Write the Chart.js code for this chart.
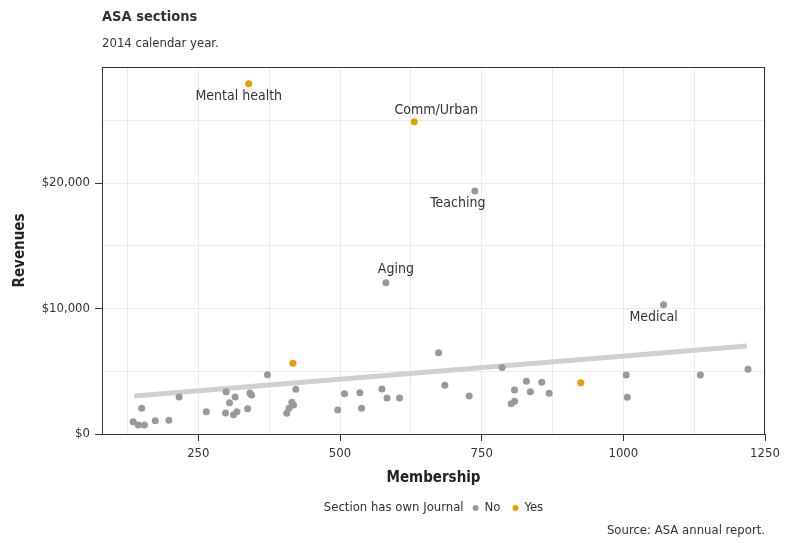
<!DOCTYPE html>
<html>
<head>
<meta charset="utf-8">
<title>ASA sections</title>
<script src="https://cdn.jsdelivr.net/npm/chart.js@4.4.0/dist/chart.umd.min.js"></script>
<style>
  html, body { margin: 0; padding: 0; background: #fff; }
  canvas { display: block; }
</style>
</head>
<body>
<canvas id="asaChart" width="787" height="543"></canvas>
<script>
// sections without their own journal
const noMembers = [135, 144, 155, 150, 174, 198, 216, 264, 299, 305, 315, 298, 312, 318, 337, 341, 344, 372,
  422, 406, 410, 415, 418, 496, 508, 535, 538, 574, 583, 605, 674, 685, 728, 786, 808, 829, 836, 856, 869,
  802, 808, 1005, 1007, 1136, 1220, 738, 581, 1071];
const noRevenues = [980, 720, 720, 2050, 1060, 1090, 2950, 1780, 3370, 2500, 2950, 1670, 1540, 1780, 2020, 3270, 3110, 4730,
  3560, 1650, 2050, 2530, 2310, 1910, 3210, 3290, 2050, 3590, 2870, 2870, 6480, 3880, 3030, 5310, 3510, 4200, 3370, 4120, 3240,
  2420, 2610, 4700, 2920, 4700, 5160, 19370, 12060, 10310];

// sections that have their own journal
const yesMembers = [417, 925, 339, 631];
const yesRevenues = [5640, 4090, 27920, 24890];

// named sections
const labelNames = ['Mental health', 'Comm/Urban', 'Teaching', 'Aging', 'Medical'];
const labelMembers = [339, 631, 738, 581, 1071];
const labelRevenues = [27920, 24890, 19370, 12060, 10310];

// linear fit, read at its two ends
const fitMembers = [137, 1218];
const fitRevenues = [3030, 7010];

// grid / tick positions
const xGridValues = [125, 250, 375, 500, 625, 750, 875, 1000, 1125, 1250];
const yGridValues = [0, 5000, 10000, 15000, 20000, 25000];

// pixel nudges for the text labels (like ggrepel would place them)
const labelNudge = [[-10, 13], [22, -11], [-17, 12], [10, -13], [-10, 13]];

const FONT = "'Liberation Sans Narrow', 'DejaVu Sans Condensed', 'Arial Narrow', sans-serif";
const TEXT = '#333333';
const GREY = '#999999';
const ORANGE = '#E69F00';

Chart.defaults.font.family = FONT;
Chart.defaults.color = TEXT;

const toPoints = (xs, ys) => xs.map((x, i) => ({ x: x, y: ys[i] }));

const decor = {
  id: 'asaDecor',
  beforeDraw(chart) {
    const ctx = chart.ctx;
    ctx.save();
    ctx.fillStyle = '#fff';
    ctx.fillRect(0, 0, chart.width, chart.height);
    ctx.restore();
  },
  afterDatasetsDraw(chart) {
    const ctx = chart.ctx;
    const xs = chart.scales.x;
    const ys = chart.scales.y;
    ctx.save();
    ctx.font = '14px ' + FONT;
    ctx.fillStyle = TEXT;
    ctx.textAlign = 'center';
    ctx.textBaseline = 'middle';
    labelNames.forEach((name, i) => {
      const px = xs.getPixelForValue(labelMembers[i]) + labelNudge[i][0];
      const py = ys.getPixelForValue(labelRevenues[i]) + labelNudge[i][1];
      ctx.fillText(name, px, py);
    });
    // panel frame
    const a = chart.chartArea;
    ctx.strokeStyle = TEXT;
    ctx.lineWidth = 1;
    ctx.strokeRect(a.left + 0.5, a.top + 0.5, a.right - a.left - 1, a.bottom - a.top);
    ctx.restore();
  },
  afterDraw(chart) {
    const ctx = chart.ctx;
    const a = chart.chartArea;
    ctx.save();
    ctx.fillStyle = TEXT;
    ctx.textBaseline = 'middle';

    // title + subtitle
    ctx.textAlign = 'left';
    ctx.font = 'bold 14.5px ' + FONT;
    ctx.fillText('ASA sections', a.left, 17);
    ctx.font = '13px ' + FONT;
    ctx.fillText('2014 calendar year.', a.left, 44);

    // legend, centred under the panel
    ctx.font = '13px ' + FONT;
    const title = 'Section has own Journal';
    const items = [['No', GREY], ['Yes', ORANGE]];
    const r = 3;
    let total = ctx.measureText(title).width;
    items.forEach(([t], i) => {
      total += (i === 0 ? 9 : 12) + 2 * r + 6 + ctx.measureText(t).width;
    });
    let x = (a.left + a.right) / 2 - total / 2;
    const y = 508;
    ctx.fillText(title, x, y);
    x += ctx.measureText(title).width;
    items.forEach(([t, col], i) => {
      x += (i === 0 ? 9 : 12);
      ctx.beginPath();
      ctx.fillStyle = col;
      ctx.arc(x + r, y, r, 0, Math.PI * 2);
      ctx.fill();
      x += 2 * r + 6;
      ctx.fillStyle = TEXT;
      ctx.fillText(t, x, y);
      x += ctx.measureText(t).width;
    });

    // caption
    ctx.textAlign = 'right';
    ctx.fillText('Source: ASA annual report.', a.right, 531);
    ctx.restore();
  }
};

const tickMark = ctx => (ctx.tick && ctx.tick.value % 250 === 0) ? TEXT : 'rgba(0,0,0,0)';
const yTickMark = ctx => (ctx.tick && ctx.tick.value % 10000 === 0) ? TEXT : 'rgba(0,0,0,0)';

new Chart(document.getElementById('asaChart'), {
  type: 'scatter',
  data: {
    datasets: [
      {
        label: 'fit',
        data: toPoints(fitMembers, fitRevenues),
        showLine: true,
        borderColor: '#d0d0d0',
        borderWidth: 5,
        pointRadius: 0,
        borderCapStyle: 'butt',
        order: 3
      },
      {
        label: 'No',
        data: toPoints(noMembers, noRevenues),
        backgroundColor: GREY,
        borderWidth: 0,
        pointRadius: 3.5,
        order: 2
      },
      {
        label: 'Yes',
        data: toPoints(yesMembers, yesRevenues),
        backgroundColor: ORANGE,
        borderWidth: 0,
        pointRadius: 3.5,
        order: 1
      }
    ]
  },
  options: {
    responsive: false,
    animation: false,
    events: [],
    layout: { padding: { top: 67, right: 22, bottom: 0, left: 0 } },
    plugins: {
      legend: { display: false },
      tooltip: { enabled: false },
      title: { display: false }
    },
    scales: {
      x: {
        type: 'linear',
        min: 80,
        max: 1250,
        afterBuildTicks: s => { s.ticks = xGridValues.map(v => ({ value: v })); },
        afterFit: s => { s.height = 109; },
        grid: { color: '#ebebeb', lineWidth: 1, tickLength: 7, tickColor: tickMark },
        border: { color: TEXT, width: 1 },
        ticks: {
          autoSkip: false,
          maxRotation: 0,
          padding: 5,
          color: TEXT,
          font: { size: 13 },
          callback: v => (v % 250 === 0 ? String(v) : '')
        },
        title: {
          display: true,
          text: 'Membership',
          color: '#222',
          font: { size: 15, weight: 'bold' },
          padding: { top: 0, bottom: 56 }
        }
      },
      y: {
        type: 'linear',
        min: 0,
        max: 29250,
        afterBuildTicks: s => { s.ticks = yGridValues.map(v => ({ value: v })); },
        afterFit: s => { s.width = 102; },
        grid: { color: '#ebebeb', lineWidth: 1, tickLength: 7, tickColor: yTickMark },
        border: { color: TEXT, width: 1 },
        ticks: {
          padding: 5,
          color: TEXT,
          font: { size: 13 },
          callback: v => (v % 10000 === 0 ? '$' + v.toLocaleString('en-US') : '')
        },
        title: {
          display: true,
          text: 'Revenues',
          color: '#222',
          font: { size: 15, weight: 'bold' },
          padding: { top: 11, bottom: 0 }
        }
      }
    }
  },
  plugins: [decor]
});
</script>
</body>
</html>
